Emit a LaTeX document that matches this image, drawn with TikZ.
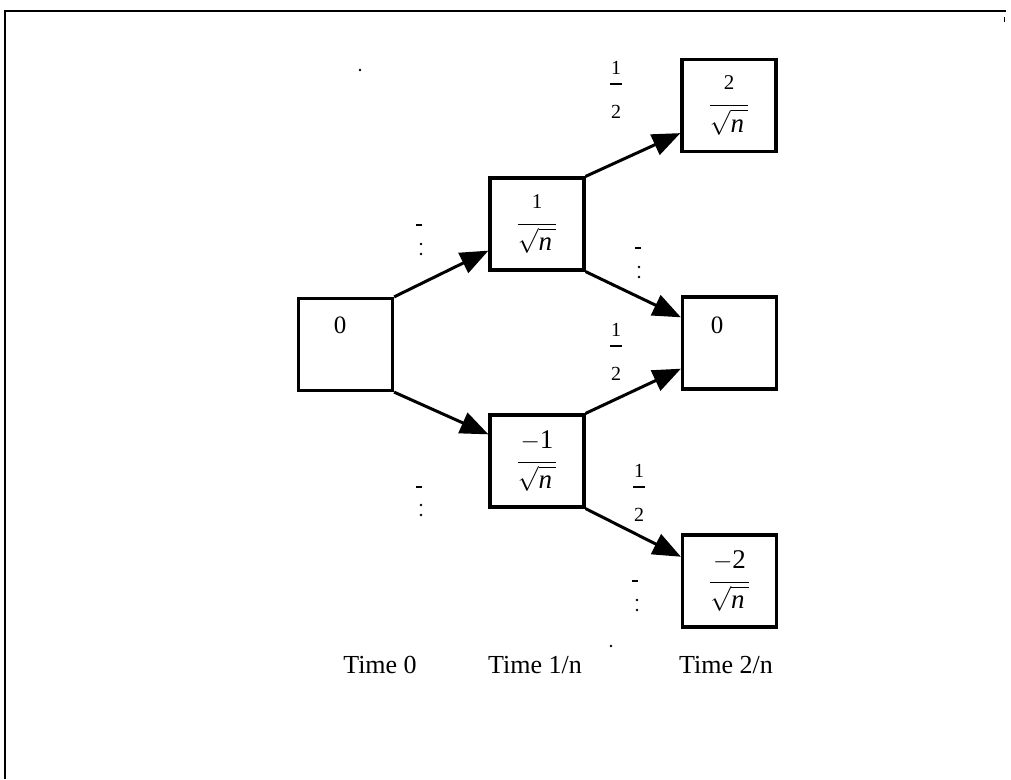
\documentclass[tikz,border=0pt]{standalone}
\usepackage{amsmath}
\usepackage{fontspec}
\setmainfont{Liberation Serif}
\usetikzlibrary{arrows.meta,calc}
\newcommand{\nn}{\text{\itshape n}}
\newcommand{\rtn}{\sqrt{\vphantom{l}\nn\,}}
\newcommand{\smallnum}[1]{\raisebox{5pt}{\fontsize{21}{23}\selectfont #1}}
\newcommand{\bignum}[1]{\raisebox{3pt}{$-$#1}}
\begin{document}
\begin{tikzpicture}[x=1pt,y=-1pt,
  box/.style={draw,line width=3.2pt,minimum width=94pt,minimum height=92pt,inner sep=0pt,font=\fontsize{27}{30}\selectfont},
  conn/.style={line width=3pt,-{Triangle[length=28pt,width=22pt]}},
  val/.style={font=\fontsize{25}{28}\selectfont},
  prob/.style={align=center,font=\fontsize{20}{22}\selectfont,inner sep=0pt},
  tlabel/.style={font=\fontsize{26}{30}\selectfont},
  frameline/.style={line width=2.6pt},
  speck/.style={fill=black,inner sep=0pt,minimum size=2.8pt,circle},
  dashmark/.style={fill=black,inner sep=0pt,minimum width=6pt,minimum height=2.8pt,rectangle}]
\useasboundingbox (0,0) rectangle (1011,779);
% frame
\draw[frameline] (5,779) -- (5,11) -- (1006,11);
\draw[line width=1pt] (1004,17) -- (1004,22);
% boxes
\node[box] (A) at (345.5,344.5) {};
\node[box] (B) at (537,224) {$\dfrac{\smallnum{1}}{\rtn}$};
\node[box] (C) at (537,461) {$\dfrac{\bignum{1}}{\rtn}$};
\node[box] (D) at (729,105.5) {$\dfrac{\smallnum{2}}{\rtn}$};
\node[box] (E) at (729.5,343) {};
\node[box] (F) at (729.5,581) {$\dfrac{\bignum{2}}{\rtn}$};
% box contents placed off-centre
\node[val] (tA) at (340,325) {0};
\node[val] (tE) at (717,325) {0};
% connectors
\draw[conn] (A.north east) -- ($(B.south west)!0.22!(B.north west)$);
\draw[conn] (A.south east) -- ($(C.south west)!0.78!(C.north west)$);
\draw[conn] (B.north east) -- ($(D.south west)!0.21!(D.north west)$);
\draw[conn] (B.south east) -- ($(E.south west)!0.77!(E.north west)$);
\draw[conn] (C.north east) -- ($(E.south west)!0.23!(E.north west)$);
\draw[conn] (C.south east) -- ($(F.south west)!0.755!(F.north west)$);
% probability labels
\node[prob] (p1) at (616,90) {1\\ \rule[12pt]{12pt}{1.8pt}\\ 2};
\node[prob] (p2) at (616,352) {1\\ \rule[12pt]{12pt}{1.8pt}\\ 2};
\node[prob] (p3) at (639,493) {1\\ \rule[12pt]{12pt}{1.8pt}\\ 2};
% faint truncated labels
\node[dashmark] (m1a) at (419,225) {};
\node[speck] (m1b) at (421,244) {};
\node[speck] (m1c) at (421,254) {};
\node[dashmark] (m2a) at (419,487) {};
\node[speck] (m2b) at (421,505) {};
\node[speck] (m2c) at (421,515) {};
\node[dashmark] (m3a) at (638,248) {};
\node[speck] (m3b) at (639,267) {};
\node[speck] (m3c) at (639,277) {};
\node[dashmark] (m4a) at (635,581) {};
\node[speck] (m4b) at (637,600) {};
\node[speck] (m4c) at (637,610) {};
\node[speck] (m5) at (611,646) {};
\node[speck] (m6) at (360,70) {};
% time labels
\node[tlabel] (T0) at (380,665) {Time 0};
\node[tlabel] (T1) at (535,665) {Time 1/n};
\node[tlabel] (T2) at (726,665) {Time 2/n};
\end{tikzpicture}
\end{document}
